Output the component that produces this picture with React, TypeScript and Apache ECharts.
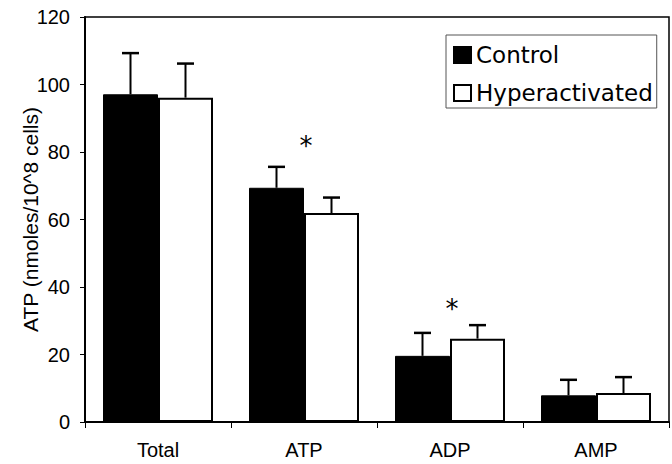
import React, { useEffect, useRef } from "react";
import * as echarts from "echarts";

const categories = ["Total", "ATP", "ADP", "AMP"];
const controlValues = [97.1, 69.4, 19.6, 7.9];
const controlErrors = [12.2, 6.2, 6.8, 4.6];
const hyperValues = [96.1, 61.9, 24.7, 8.6];
const hyperErrors = [10.1, 4.6, 4.0, 4.7];
const yTicks = { min: 0, max: 120, interval: 20 };
const asterisks = [
  [1, 83.3],
  [2, 34.9],
];

const BAR_W = 55;
const CAP = 17;

export default function App() {
  const ref = useRef<HTMLDivElement>(null);
  useEffect(() => {
    if (!ref.current) return;
    const chart = echarts.init(ref.current, null, { renderer: "svg" });
    const errData: number[][] = [];
    categories.forEach((_, i) => {
      errData.push([i, controlValues[i], controlValues[i] + controlErrors[i], 0]);
      errData.push([i, hyperValues[i], hyperValues[i] + hyperErrors[i], 1]);
    });
    chart.setOption({
      animation: false,
      backgroundColor: "#fff",
      grid: {
        left: 85,
        right: 3,
        top: 17,
        bottom: 42,
        show: true,
        borderColor: "#000",
        borderWidth: 1.5,
        backgroundColor: "transparent",
      },
      legend: {
        data: ["Control", "Hyperactivated"],
        orient: "vertical",
        left: 446,
        top: 35,
        itemWidth: 17,
        itemHeight: 16,
        itemGap: 14,
        padding: [8, 4, 3, 7],
        borderColor: "#555",
        borderWidth: 1,
        backgroundColor: "#fff",
        icon: "rect",
        textStyle: {
          fontFamily: "DejaVu Sans",
          fontSize: 23,
          color: "#000",
          lineHeight: 24,
        },
      },
      xAxis: {
        type: "category",
        data: categories,
        axisLine: { lineStyle: { color: "#000", width: 2 } },
        axisTick: { show: true, length: 6, lineStyle: { color: "#000" } },
        axisLabel: {
          color: "#000",
          fontFamily: "Liberation Sans",
          fontSize: 20,
          margin: 18,
        },
      },
      yAxis: {
        type: "value",
        min: yTicks.min,
        max: yTicks.max,
        interval: yTicks.interval,
        name: "ATP (nmoles/10^8 cells)",
        nameLocation: "middle",
        nameRotate: 90,
        nameGap: 44,
        nameMoveOverlap: false,
        nameTextStyle: {
          fontFamily: "Liberation Sans",
          fontSize: 21,
          color: "#000",
        },
        splitLine: { show: false },
        axisLine: { show: true, lineStyle: { color: "#000", width: 2 } },
        axisTick: { show: true, length: 5, lineStyle: { color: "#000" } },
        axisLabel: {
          color: "#000",
          fontFamily: "Liberation Sans",
          fontSize: 20,
          margin: 15,
        },
      },
      series: [
        {
          name: "Control",
          type: "bar",
          data: controlValues,
          barWidth: BAR_W,
          barGap: "0%",
          itemStyle: { color: "#000", borderColor: "#000", borderWidth: 1 },
          z: 2,
        },
        {
          name: "Hyperactivated",
          type: "bar",
          data: hyperValues,
          barWidth: BAR_W,
          barGap: "0%",
          itemStyle: { color: "#fff", borderColor: "#000", borderWidth: 2 },
          z: 2,
        },
        {
          name: "errors",
          type: "custom",
          data: errData,
          z: 3,
          renderItem: (params: any, api: any) => {
            const cat = api.value(0);
            const base = api.coord([cat, api.value(1)]);
            const hi = api.coord([cat, api.value(2)]);
            const g = api.value(3);
            const x = base[0] + (g === 0 ? -BAR_W / 2 : BAR_W / 2);
            return {
              type: "group",
              children: [
                {
                  type: "line",
                  shape: { x1: x, y1: base[1], x2: x, y2: hi[1] },
                  style: { stroke: "#000", lineWidth: 2 },
                },
                {
                  type: "line",
                  shape: { x1: x - CAP / 2, y1: hi[1], x2: x + CAP / 2, y2: hi[1] },
                  style: { stroke: "#000", lineWidth: 2.5 },
                },
              ],
            };
          },
        },
        {
          name: "sig",
          type: "custom",
          data: asterisks,
          z: 3,
          renderItem: (params: any, api: any) => {
            const p = api.coord([api.value(0), api.value(1)]);
            return {
              type: "text",
              x: p[0] + 2,
              y: p[1] + 5,
              style: {
                text: "*",
                fontFamily: "DejaVu Sans",
                fontSize: 26,
                fill: "#000",
                align: "center",
                verticalAlign: "middle",
              },
            };
          },
        },
      ],
    });
    return () => chart.dispose();
  }, []);
  return <div ref={ref} style={{ width: 672, height: 464, position: "absolute", left: 0, top: 0 }} />;
}
